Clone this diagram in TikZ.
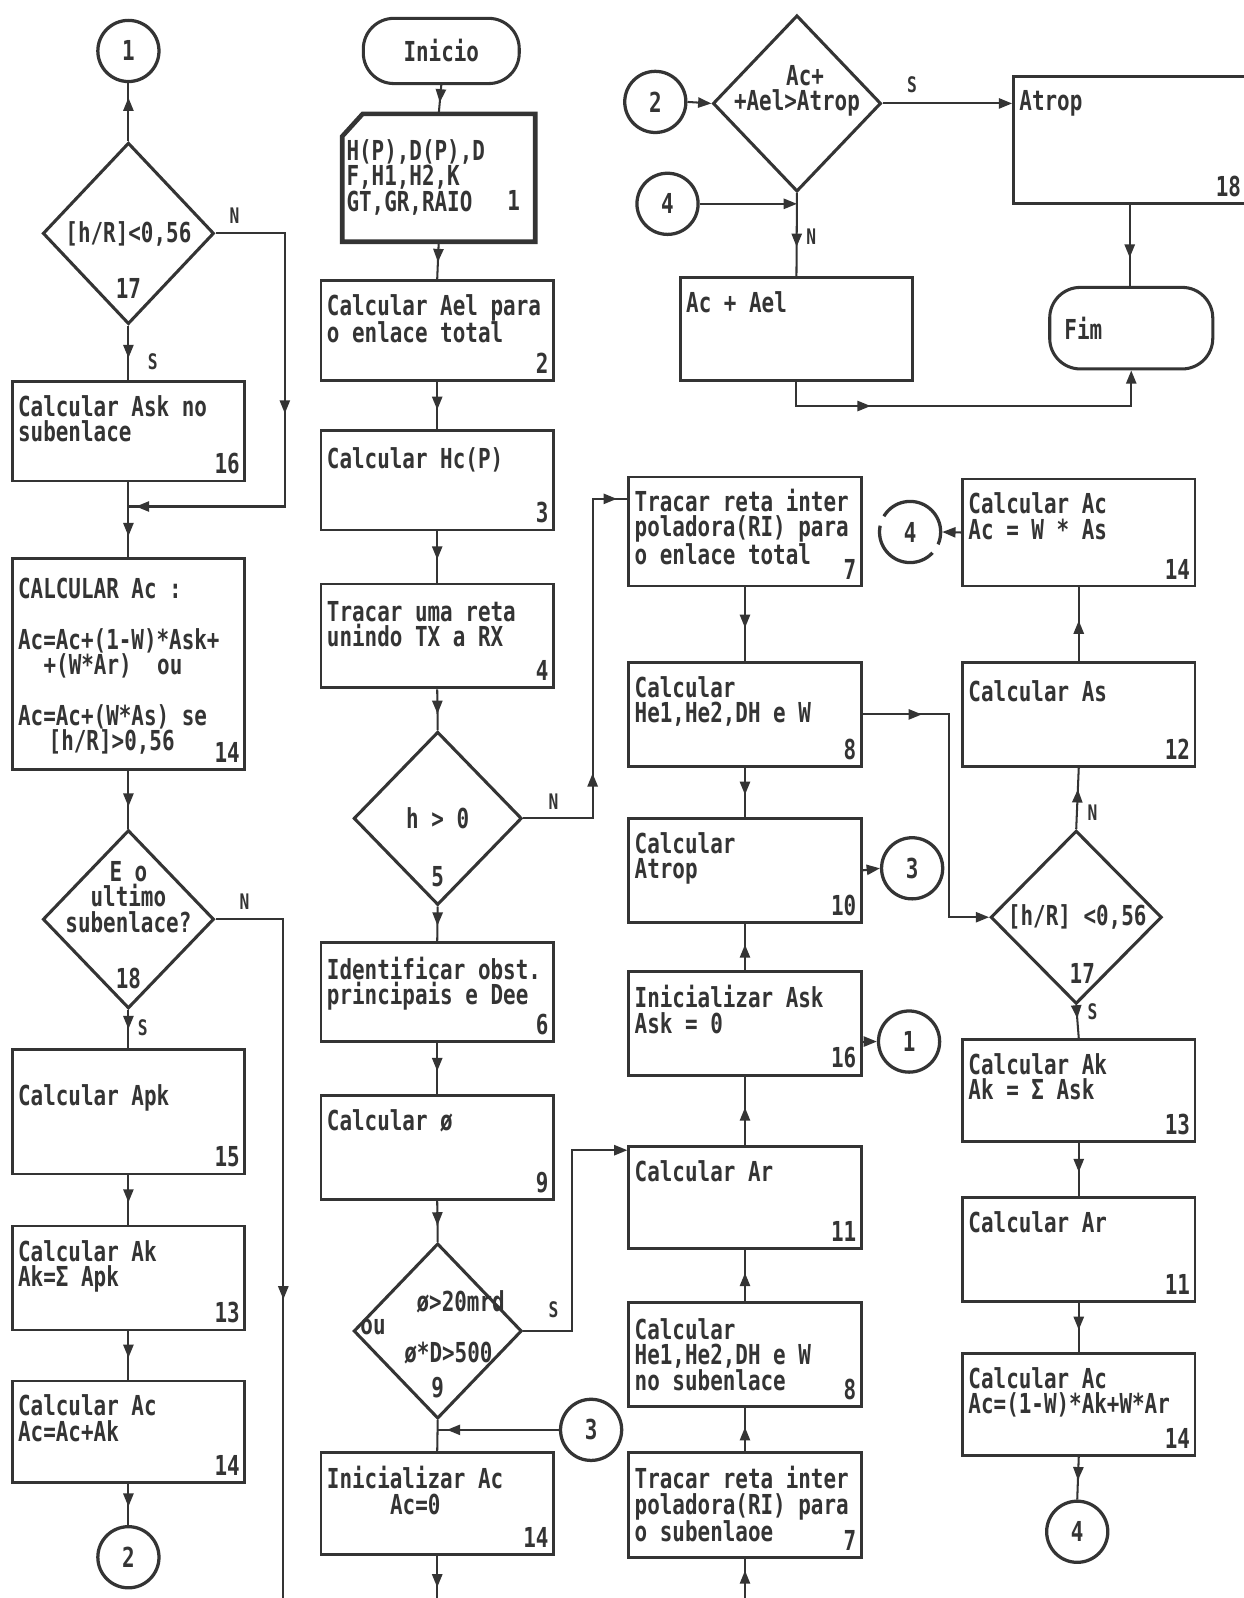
\documentclass[tikz,border=0pt]{standalone}
\usepackage{fontspec}
\usetikzlibrary{shapes.geometric, arrows.meta, decorations.markings}
\newfontfamily\dotfont{DejaVu Sans Mono}[FakeStretch=0.76]
\newcommand\dotsz{\dotfont\bfseries\fontsize{27}{25}\selectfont}
\newcommand\dotsm{\dotfont\bfseries\fontsize{21}{21}\selectfont}
\definecolor{ink}{RGB}{52,52,52}
\tikzset{
  blk/.style={draw=ink, line width=2.8pt, minimum width=228pt, inner sep=0pt},
  btxt/.style={anchor=north west, align=left, inner sep=0pt, xshift=7pt, yshift=-15pt, font=\dotsz, text=ink},
  bnum/.style={anchor=south east, inner sep=0pt, xshift=-6pt, yshift=8pt, font=\dotsz, text=ink},
  dec/.style={diamond, draw=ink, line width=3pt, inner sep=0pt},
  conn/.style={circle, draw=ink, line width=3.2pt, minimum size=60pt, inner sep=0pt, font=\dotsz, text=ink},
  term/.style={rectangle, rounded corners=30pt, draw=ink, line width=3pt, minimum height=64pt, inner sep=0pt, font=\dotsz, text=ink},
  lbl/.style={inner sep=0pt, font=\dotsz, text=ink, align=center},
  sn/.style={inner sep=0pt, font=\dotsm, text=ink},
  flow/.style={draw=ink, line width=2pt},
  arr/.style={postaction={decorate, decoration={markings, mark=at position #1 with {\arrow{Triangle[length=13pt, width=10pt]}}}}},
  fwd/.style={-{Triangle[length=13pt, width=10pt]}},
}
\begin{document}
\begin{tikzpicture}[x=1pt,y=-1pt]
\useasboundingbox (0,0) rectangle (1220,1568);
\fill[white] (0,0) rectangle (1220,1568);

% left column
\node[conn] (c1a) at (126,50) {1};
\node[dec, minimum width=168pt, minimum height=178pt] (d17a) at (126,229) {};
\node[lbl] (d17at) at (126,230) {[h/R]<0,56};
\node[lbl] (d17an) at (126,283) {17};
\node[blk, minimum height=98pt, label={[btxt]north west:Calcular Ask no\\subenlace}, label={[bnum]south east:16}] (b16a) at (126,423) {};
\coordinate (m16) at (126,497);
\node[blk, minimum height=207pt] (bcalc) at (126,651.5) {};
\node[btxt, yshift=-5pt] (bcalct) at (bcalc.north west) {CALCULAR Ac :\\ \\Ac=Ac+(1-W)*Ask+\\\hspace*{25pt}+(W*Ar)\hspace*{25pt}ou\\ \\Ac=Ac+(W*As) se\\\hspace*{30pt}[h/R]>0,56};
\node[bnum] (bcalcn) at (bcalc.south east) {14};
\node[dec, minimum width=168pt, minimum height=175pt] (d18) at (126,902) {};
\node[lbl] (d18t) at (126,880) {E o\\ultimo\\subenlace?};
\node[lbl] (d18n) at (126,960) {18};
\node[blk, minimum height=122pt, label={[btxt, yshift=-20pt]north west:Calcular Apk}, label={[bnum]south east:15}] (b15) at (126,1091) {};
\node[blk, minimum height=102pt, label={[btxt]north west:Calcular Ak\\Ak=Σ Apk}, label={[bnum]south east:13}] (b13a) at (126,1254) {};
\node[blk, minimum height=100pt, label={[btxt]north west:Calcular Ac\\Ac=Ac+Ak}, label={[bnum]south east:14}] (b14a) at (126,1405) {};
\node[conn] (c2a) at (126,1528) {2};
\coordinate (e18) at (278,1568);

\node[sn] (n17a) at (230,212) {N};
\node[sn] (s17a) at (150,355) {S};
\node[sn] (n18) at (240,885) {N};
\node[sn] (s18) at (140,1008) {S};

\draw[flow, arr=0.75] (d17a.north) -- (c1a.south);
\draw[flow, arr=0.5, arr=0.985] (d17a.east) -- ++(68,0) |- (m16);
\draw[flow, arr=0.6] (d17a.south) -- (b16a.north);
\draw[flow, arr=0.72] (b16a.south) -- (bcalc.north);
\draw[flow, arr=0.62] (bcalc.south) -- (d18.north);
\draw[flow, arr=0.6] (d18.east) -| (e18);
\draw[flow, arr=0.5] (d18.south) -- (b15.north);
\draw[flow, arr=0.55] (b15.south) -- (b13a.north);
\draw[flow, arr=0.55] (b13a.south) -- (b14a.north);
\draw[flow, arr=0.55] (b14a.south) -- (c2a.north);

% second column
\node[term, minimum width=153pt] (inicio) at (433,50) {Inicio};
\node[inner sep=0pt, minimum width=189pt, minimum height=125pt] (input) at (430.5,174.5) {};
\draw[ink, line width=4.5pt] ([yshift=-22pt]input.north west) -- ([xshift=20pt]input.north west) -- (input.north east) -- (input.south east) -- (input.south west) -- cycle;
\node[btxt, font=\dotfont\bfseries\fontsize{27}{23}\selectfont, xshift=-3pt, yshift=-10pt] (inputt) at (input.north west) {H(P),D(P),D\\F,H1,H2,K\\GT,GR,RAIO};
\node[lbl] (inputn) at (504,197) {1};
\node[blk, minimum height=98pt, label={[btxt]north west:Calcular Ael para\\o enlace total}, label={[bnum]south east:2}] (b2) at (429,324) {};
\node[blk, minimum height=98pt, label={[btxt, yshift=-3pt]north west:Calcular Hc(P)}, label={[bnum]south east:3}] (b3) at (429,471) {};
\node[blk, minimum height=102pt, label={[btxt, yshift=-3pt]north west:Tracar uma reta\\unindo TX a RX}, label={[bnum]south east:4}] (b4) at (429,624) {};
\node[dec, minimum width=165pt, minimum height=170pt] (d5) at (429.5,803) {};
\node[lbl] (d5t) at (429.5,803) {h > 0};
\node[lbl] (d5n) at (429.5,860) {5};
\node[blk, minimum height=97pt, label={[btxt]north west:Identificar obst.\\principais e Dee}, label={[bnum]south east:6}] (b6) at (429,973.5) {};
\node[blk, minimum height=102pt, label={[btxt]north west:Calcular ø}, label={[bnum]south east:9}] (b9) at (429,1126) {};
\node[dec, minimum width=165pt, minimum height=172pt] (d9) at (429.5,1306) {};
\node[lbl] (d9t1) at (452,1277) {ø>20mrd};
\node[lbl] (d9t2) at (366,1302) {ou};
\node[lbl] (d9t3) at (440,1328) {ø*D>500};
\node[lbl] (d9n) at (429.5,1362) {9};
\coordinate (m9) at (429,1403);
\node[blk, minimum height=100pt, label={[btxt]north west:Inicializar Ac\\\hspace*{62pt}Ac=0}, label={[bnum]south east:14}] (b14b) at (429,1475) {};
\coordinate (e14) at (429,1568);

\node[sn] (n5) at (543,787) {N};
\node[sn] (s9) at (543,1285) {S};

\draw[flow, arr=0.6] (inicio.south) -- (input.north);
\draw[flow, arr=0.55] (input.south) -- (b2.north);
\draw[flow, arr=0.6] (b2.south) -- (b3.north);
\draw[flow, arr=0.55] (b3.south) -- (b4.north);
\draw[flow, arr=0.6] (b4.south) -- (d5.north);
\draw[flow, arr=0.55] (d5.south) -- (b6.north);
\draw[flow, arr=0.55] (b6.south) -- (b9.north);
\draw[flow, arr=0.6] (b9.south) -- (d9.north);
\draw[flow] (d9.south) -- (b14b.north);
\draw[flow, arr=0.75] (b14b.south) -- (e14);

% third column
\node[blk, minimum height=107pt, label={[btxt, yshift=2pt]north west:Tracar reta inter\\poladora(RI) para\\o enlace total}, label={[bnum]south east:7}] (b7) at (731,521.5) {};
\node[blk, minimum height=102pt, label={[btxt]north west:Calcular\\He1,He2,DH e W}, label={[bnum]south east:8}] (b8) at (731,701) {};
\node[blk, minimum height=102pt, label={[btxt]north west:Calcular\\Atrop}, label={[bnum]south east:10}] (b10) at (731,854) {};
\node[blk, minimum height=102pt, label={[btxt]north west:Inicializar Ask\\Ask = 0}, label={[bnum]south east:16}] (b16b) at (731,1004) {};
\node[blk, minimum height=100pt, label={[btxt]north west:Calcular Ar}, label={[bnum]south east:11}] (b11a) at (731,1175) {};
\node[blk, minimum height=102pt, label={[btxt, yshift=-2pt]north west:Calcular\\He1,He2,DH e W\\no subenlace}, label={[bnum]south east:8}] (b8b) at (731,1329) {};
\node[blk, minimum height=103pt, label={[btxt]north west:Tracar reta inter\\poladora(RI) para\\o subenlaoe}, label={[bnum]south east:7}] (b7b) at (731,1476.5) {};
\coordinate (e7) at (731,1568);
\node[conn] (c3a) at (895,852) {3};
\node[conn] (c1b) at (892,1022) {1};
\node[conn, dash pattern=on 78pt off 10pt] (c4a) at (893,522) {4};
\node[conn] (c3b) at (580,1403) {3};

\draw[flow, arr=0.92] (c3b.west) -- (m9);
\draw[flow, arr=0.27, arr=0.975] (d5.east) -- ++(68,0) |- ([yshift=32pt]b7.west);
\draw[flow, fwd] (d9.east) -- ++(48,0) |- ([yshift=-5pt]b11a.north west);
\draw[flow, arr=0.55] (b7.south) -- (b8.north);
\draw[flow, arr=0.55] (b8.south) -- (b10.north);
\draw[flow, fwd] (b10.east) -- (c3a.west);
\draw[flow, arr=0.55] (b16b.north) -- (b10.south);
\draw[flow, fwd] (b16b.east |- c1b.west) -- (c1b.west);
\draw[flow, arr=0.55] (b11a.north) -- (b16b.south);
\draw[flow, arr=0.55] (b8b.north) -- (b11a.south);
\draw[flow, arr=0.55] (b7b.north) -- (b8b.south);
\draw[flow, arr=0.7] (e7) -- (b7b.south);

% fourth column
\node[blk, minimum height=105pt, label={[btxt]north west:Calcular Ac\\Ac = W * As}, label={[bnum]south east:14}] (b14c) at (1058.5,522.5) {};
\node[blk, minimum height=102pt, label={[btxt, yshift=-4pt]north west:Calcular As}, label={[bnum]south east:12}] (b12) at (1058.5,701) {};
\node[dec, minimum width=168pt, minimum height=170pt] (d17b) at (1056,900) {};
\node[lbl] (d17bt) at (1057,900) {[h/R] <0,56};
\node[lbl] (d17bn) at (1062,955) {17};
\node[blk, minimum height=100pt, label={[btxt]north west:Calcular Ak\\Ak = Σ Ask}, label={[bnum]south east:13}] (b13b) at (1058.5,1070) {};
\node[blk, minimum height=102pt, label={[btxt]north west:Calcular Ar}, label={[bnum]south east:11}] (b11b) at (1058.5,1226) {};
\node[blk, minimum height=100pt, label={[btxt]north west:Calcular Ac\\Ac=(1-W)*Ak+W*Ar}, label={[bnum]south east:14}] (b14d) at (1058.5,1378) {};
\node[conn] (c4b) at (1057,1503) {4};

\node[sn] (n17b) at (1072,797) {N};
\node[sn] (s17b) at (1072,993) {S};

\draw[flow, arr=0.18, fwd] (b8.east) -- ++(85,0) |- (d17b.west);
\draw[flow, fwd] (b14c.west) -- (c4a.east);
\draw[flow, arr=0.55] (b12.north) -- (b14c.south);
\draw[flow, arr=0.65] (d17b.north) -- (b12.south);
\draw[flow, arr=0.4] (d17b.south) -- (b13b.north);
\draw[flow, arr=0.55] (b13b.south) -- (b11b.north);
\draw[flow, arr=0.55] (b11b.south) -- (b14d.north);
\draw[flow, arr=0.55] (b14d.south) -- (c4b.north);

% top right
\node[conn] (c2b) at (643,100) {2};
\node[dec, minimum width=165pt, minimum height=173pt] (dtop) at (782,101.5) {};
\node[lbl] (dtopt1) at (790,74) {Ac+};
\node[lbl] (dtopt2) at (782,101) {+Ael>Atrop};
\node[blk, minimum height=125pt, label={[btxt]north west:Atrop}, label={[bnum]south east:18}] (b18) at (1108.5,137.5) {};
\node[conn] (c4c) at (655,200) {4};
\node[blk, minimum height=101pt, label={[btxt]north west:Ac + Ael}] (bae) at (781.5,322.5) {};
\node[term, minimum width=160pt, minimum height=80pt] (fim) at (1110,322) {};
\node[lbl] (fimt) at (1063,322) {Fim};

\node[sn] (stop) at (895,83) {S};
\node[sn] (ntop) at (796,232) {N};

\draw[flow, fwd] (c2b.east) -- (dtop.west);
\draw[flow, fwd] (dtop.east) -- (b18.west |- dtop.east);
\draw[flow, fwd] (c4c.east) -- (c4c.east -| dtop.south);
\draw[flow, arr=0.65] (dtop.south) -- (bae.north);
\draw[flow, arr=0.25, fwd] (bae.south) -- ++(0,24) -| (fim.south);
\draw[flow, arr=0.65] (b18.south) -- (b18.south |- fim.north);
\end{tikzpicture}
\end{document}
